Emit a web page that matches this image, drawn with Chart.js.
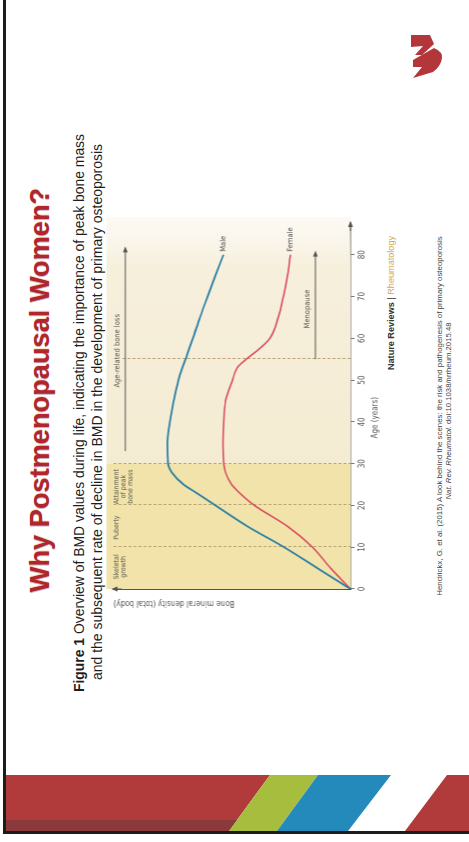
<!DOCTYPE html>
<html>
<head>
<meta charset="utf-8">
<script src="https://cdn.jsdelivr.net/npm/chart.js@4.4.1/dist/chart.umd.min.js"></script>
<style>
  html, body { margin: 0; padding: 0; background: #fff; }
  body { width: 469px; height: 842px; position: relative; overflow: hidden;
         font-family: 'Liberation Sans', Arial, sans-serif; }
  .rot { position: absolute; transform: translate(-50%, -50%) rotate(-90deg); white-space: nowrap; line-height: 1; }
  .title { font-weight: bold; font-size: 27px; color: #b1262d;
           text-shadow: -1px 0 0 rgba(90, 40, 110, 0.35), 1px 0 0 rgba(235, 170, 60, 0.35); }
  .cap { font-size: 14px; color: #1e1e1e; }
  .src { font-size: 10px; color: #333; }
  .src b { font-weight: bold; }
  .src span { color: #d2aa5c; }
  .cite { font-size: 7px; color: #444; }
  #chartBox { position: absolute; width: 410px; height: 285px; left: 242.5px; top: 410px;
              transform: translate(-50%, -50%) rotate(-90deg); }
  #decor { position: absolute; left: 0; top: 0; }
</style>
</head>
<body>
<svg id="decor" width="469" height="842" viewBox="0 0 469 842">
  <!-- slide frame -->
  <rect x="3" y="0" width="3" height="834" fill="#1c1c1c"/>
  <rect x="3" y="831" width="466" height="3" fill="#1c1c1c"/>
  <!-- footer ribbon -->
  <polygon points="6,775 270,775 229,831 6,831" fill="#b13a3b"/>
  <polygon points="6,820 237,820 229,831 6,831" fill="#8b3a3c"/>
  <polygon points="270,775 318,775 277,831 229,831" fill="#a6bd3e"/>
  <polygon points="318,775 391,775 348,831 277,831" fill="#2489bb"/>
  <polygon points="447,775 469,775 469,831 405,831" fill="#b13a3b"/>
  <!-- logo -->
  <polygon points="411,35 430,35 434,44 422,55 415,55 423,46 411,47" fill="#b2363a"/>
  <path d="M413,60 L434,48 Q443,52 442,58 Q441,66 433,72 L413,78 L422,67 L413,67 Z" fill="#b2363a"/>
</svg>

<div class="rot title" style="left:40px; top:390px;" data-len="405">Why Postmenopausal Women?</div>
<div class="rot cap" style="left:80px; top:413px;" data-len="559"><b>Figure 1</b> Overview of BMD values during life, indicating the importance of peak bone mass</div>
<div class="rot cap" style="left:97px; top:412px;" data-len="536">and the subsequent rate of decline in BMD in the development of primary osteoporosis</div>
<div class="rot src" style="left:392px; top:303px;" data-len="134"><b>Nature Reviews</b> | <span>Rheumatology</span></div>
<div class="rot cite" style="left:440px; top:416px;" data-len="360">Hendrickx, G. et al. (2015) A look behind the scenes: the risk and pathogenesis of primary osteoporosis</div>
<div class="rot cite" style="left:449px; top:411px;" data-len="177"><i>Nat. Rev. Rheumatol.</i> doi:10.1038/nrrheum.2015.48</div>

<div id="chartBox"><canvas id="c" width="410" height="285"></canvas></div>

<script>
// Bone mineral density across the lifespan (arbitrary units, 0–100)
const ages      = [0, 5, 10, 15, 20, 23, 25, 28, 30, 35, 40, 45, 50, 53, 55, 57, 60, 65, 70, 75, 80];
const maleBMD   = [0, 14, 28, 43.5, 57, 65, 70.4, 75.5, 77, 77.3, 76.2, 74.6, 72.6, 70.9, 69.6, 68.4, 66.5, 63.5, 60.3, 57, 53.6];
const femaleBMD = [0, 8.4, 16, 26.6, 40.5, 46.8, 50.2, 52.8, 53.5, 53.8, 53.5, 52.7, 49.8, 47.7, 44, 39.5, 34, 30.5, 28.3, 26.6, 25.3];
const ageTicks  = [0, 10, 20, 30, 40, 50, 60, 70, 80];
const ageMax    = 87.6;
const dividers  = [10, 20, 30, 55];
const phases    = [
  { lines: ['Skeletal', 'growth'], age: 5.3 },
  { lines: ['Puberty'], age: 14.7 },
  { lines: ['Attainment', 'of peak', 'bone mass'], age: 24.5 }
];
const boneLoss  = { text: 'Age-related bone loss', from: 33, to: 82, mid: 57 };
const menopause = { text: 'Menopause', from: 55, to: 81, mid: 67 };

// fit each rotated text line to its measured length
document.querySelectorAll('[data-len]').forEach(el => {
  const fs = parseFloat(getComputedStyle(el).fontSize);
  el.style.fontSize = (fs * (+el.dataset.len) / el.offsetWidth) + 'px';
});

const small = "'Liberation Sans Narrow', 'DejaVu Sans Condensed', 'Liberation Sans', Arial, sans-serif";
const ink = '#55544f';

function arrow(ctx, x1, y1, x2, y2, head, wide) {
  const ang = Math.atan2(y2 - y1, x2 - x1);
  ctx.beginPath(); ctx.moveTo(x1, y1); ctx.lineTo(x2 - Math.cos(ang) * head * 0.6, y2 - Math.sin(ang) * head * 0.6); ctx.stroke();
  ctx.beginPath();
  ctx.moveTo(x2, y2);
  ctx.lineTo(x2 - Math.cos(ang) * head + Math.sin(ang) * wide, y2 - Math.sin(ang) * head - Math.cos(ang) * wide);
  ctx.lineTo(x2 - Math.cos(ang) * head - Math.sin(ang) * wide, y2 - Math.sin(ang) * head + Math.cos(ang) * wide);
  ctx.closePath(); ctx.fill();
}

const fieldPlugin = {
  id: 'field',
  beforeDatasetsDraw(chart) {
    const { ctx, chartArea: a, scales: { x, y } } = chart;
    const x0 = x.getPixelForValue(0), x30 = x.getPixelForValue(30), xe = x.getPixelForValue(ageMax);
    const top = a.top - 7, bot = y.getPixelForValue(0);
    ctx.save();
    const g = ctx.createLinearGradient(x30, 0, xe + 6, 0);
    g.addColorStop(0, '#f4ebd2'); g.addColorStop(0.8, '#f6efdc'); g.addColorStop(1, 'rgba(250,246,236,0.6)');
    ctx.fillStyle = g; ctx.fillRect(x30, top, xe + 6 - x30, bot - top);
    ctx.fillStyle = '#f1e3a9'; ctx.fillRect(x0, top, x30 - x0, bot - top);
    // phase dividers
    ctx.strokeStyle = '#b8a673'; ctx.lineWidth = 1; ctx.setLineDash([3, 2]);
    dividers.forEach(v => {
      const px = Math.round(x.getPixelForValue(v)) + 0.5;
      ctx.beginPath(); ctx.moveTo(px, v === 55 ? a.top + 9 : a.top); ctx.lineTo(px, bot); ctx.stroke();
    });
    ctx.restore();
  },
  afterDraw(chart) {
    const { ctx, chartArea: a, scales: { x, y } } = chart;
    ctx.save();
    ctx.strokeStyle = ink; ctx.fillStyle = ink; ctx.lineWidth = 1;
    // axis arrowheads
    arrow(ctx, a.left, a.top + 8, a.left, a.top - 2, 6, 2.6);
    arrow(ctx, a.right - 8, a.bottom, a.right + 2, a.bottom, 6, 2.6);
    // bone loss and menopause arrows
    arrow(ctx, x.getPixelForValue(boneLoss.from), y.getPixelForValue(95), x.getPixelForValue(boneLoss.to), y.getPixelForValue(95), 6, 2.4);
    arrow(ctx, x.getPixelForValue(menopause.from), y.getPixelForValue(14.8), x.getPixelForValue(menopause.to), y.getPixelForValue(14.8), 6, 2.4);
    ctx.textAlign = 'center'; ctx.textBaseline = 'middle';
    ctx.font = '7px ' + small; ctx.fillStyle = '#5a5952';
    phases.forEach(p => {
      p.lines.forEach((t, i) => ctx.fillText(t, x.getPixelForValue(p.age), y.getPixelForValue(98.5) + i * 7));
    });
    ctx.font = '7.5px ' + small;
    ctx.fillText(boneLoss.text, x.getPixelForValue(boneLoss.mid), y.getPixelForValue(98.4));
    ctx.fillText(menopause.text, x.getPixelForValue(menopause.mid), y.getPixelForValue(18.2));
    // axis title for age
    ctx.font = '8px ' + small; ctx.fillStyle = '#555';
    ctx.fillText('Age (years)', x.getPixelForValue(41), a.bottom + 25);
    // series names at the line ends
    ctx.textAlign = 'left';
    ctx.font = '7.5px ' + small;
    chart.data.datasets.forEach(ds => {
      const last = ds.data[ds.data.length - 1];
      ctx.fillText(ds.label, x.getPixelForValue(last.x) + 3, y.getPixelForValue(last.y));
    });
    ctx.restore();
  }
};

new Chart(document.getElementById('c'), {
  type: 'line',
  data: {
    datasets: [
      { label: 'Male', data: ages.map((a, i) => ({ x: a, y: maleBMD[i] })),
        borderColor: '#2b7fa3', borderWidth: 1.8, pointRadius: 0, cubicInterpolationMode: 'monotone' },
      { label: 'Female', data: ages.map((a, i) => ({ x: a, y: femaleBMD[i] })),
        borderColor: '#d8485c', borderWidth: 1.5, pointRadius: 0, cubicInterpolationMode: 'monotone' }
    ]
  },
  options: {
    responsive: false, animation: false,
    layout: { padding: { left: 0, right: 18, top: 13, bottom: 0 } },
    plugins: { legend: { display: false }, tooltip: { enabled: false } },
    scales: {
      x: {
        type: 'linear', min: 0, max: ageMax,
        afterBuildTicks: s => { s.ticks = ageTicks.map(v => ({ value: v })); },
        afterFit: s => { s.height = 35; },
        grid: { display: true, drawOnChartArea: false, tickLength: 4, color: '#777' },
        border: { display: true, color: ink, width: 1.5 },
        ticks: { padding: 3, maxRotation: 0, color: '#555', font: { size: 8, family: small } }
      },
      y: {
        min: 0, max: 100,
        afterFit: s => { s.width = 26; },
        grid: { display: false },
        border: { display: true, color: ink, width: 1.5 },
        ticks: { display: false },
        title: { display: true, text: 'Bone mineral density (total body)', align: 'end',
                 color: '#555', font: { size: 8, family: small }, padding: { top: 7, bottom: 0 } }
      }
    }
  },
  plugins: [fieldPlugin]
});
</script>
</body>
</html>
